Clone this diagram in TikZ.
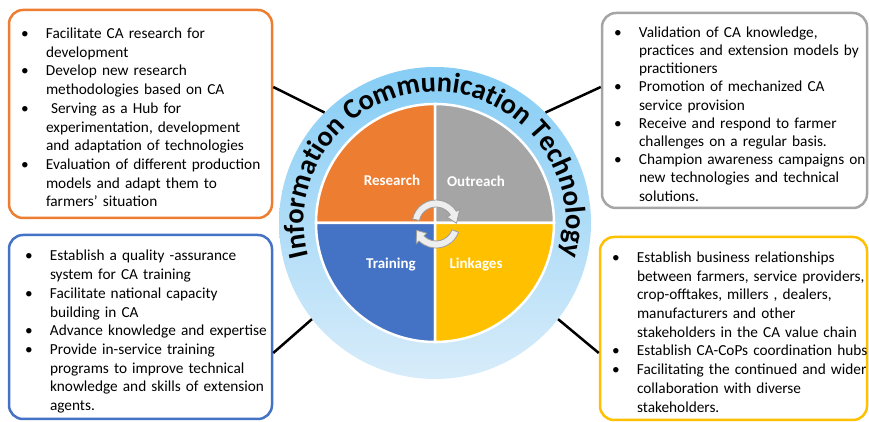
\documentclass[tikz,border=0pt]{standalone}
\usepackage{fontspec}
\setmainfont{Carlito}
\usetikzlibrary{decorations.text}

\definecolor{resorange}{HTML}{ED7D31}
\definecolor{outgray}{HTML}{A5A5A5}
\definecolor{trainblue}{HTML}{4472C4}
\definecolor{linkgold}{HTML}{FFC000}
\definecolor{ringtop}{HTML}{86CDF5}
\definecolor{ringbottom}{HTML}{D8ECFA}
\definecolor{cyclefill}{HTML}{EEEEEE}
\definecolor{cycleedge}{HTML}{9C9C9C}

\newcommand{\itm}{\makebox[25pt][l]{\textbullet}}
\newcommand{\boxlist}[1]{\raisebox{-5pt}[\height][\depth]{\begin{tabular}{@{}l@{}l@{}}#1\end{tabular}}}

\tikzset{
  infobox/.style={draw=#1, line width=2.5pt, rounded corners=14pt, fill=white, align=left,
    inner ysep=0pt, font=\fontsize{15.3}{18.7}\selectfont},
  quadrant/.style={fill=#1, draw=white, line width=2.5pt},
  quadlabel/.style={text=white, font=\fontsize{15}{18}\selectfont\bfseries},
  cyclearrow/.style={fill=cyclefill, draw=cycleedge, line width=0.8pt, line join=round},
  link/.style={line width=2.5pt}
}

\begin{document}
\begin{tikzpicture}[x=1pt,y=1pt]
\useasboundingbox (0,0) rectangle (869,422);

% ring and the four quadrants
\node[circle, minimum size=312pt, inner sep=0pt, top color=ringtop, bottom color=ringbottom] (ring) at (435,199) {};
\draw[quadrant=resorange] (ring.center) -- ++(90:119) arc (90:180:119) -- cycle;
\draw[quadrant=outgray] (ring.center) -- ++(0:119) arc (0:90:119) -- cycle;
\draw[quadrant=trainblue] (ring.center) -- ++(180:119) arc (180:270:119) -- cycle;
\draw[quadrant=linkgold] (ring.center) -- ++(270:119) arc (270:360:119) -- cycle;

\node[quadlabel] (research) at (392,242) {Research};
\node[quadlabel] (outreach) at (476,241) {Outreach};
\node[quadlabel] (training) at (391,157) {Training};
\node[quadlabel] (linkages) at (476,157) {Linkages};

% cycle arrows
\begin{scope}[shift={(436,198)}]
\draw[cyclearrow] (168:24) arc (168:32:24) -- (32:28) -- (2:20.5) -- (32:13) -- (32:17) arc (32:168:17) -- cycle;
\draw[cyclearrow] (-20:24) arc (-20:-135:24) -- (-135:28) -- (-162:20.5) -- (-135:13) -- (-135:17) arc (-135:-20:17) -- cycle;
\end{scope}

\path[decorate, decoration={text along path, text align=center,
  text={|\fontsize{28.5}{28.5}\selectfont\bfseries|Information Communication Technology}}]
  ([shift={(194.5:131)}]ring.center) arc (194.5:-14.5:131);

% the four boxes
\node[infobox=resorange, minimum width=263pt, minimum height=208pt, text width=239pt, inner xsep=12pt] (resbox) at (140.5,308) {\boxlist{%
\itm & Facilitate CA research for\\
 & development\\
\itm & Develop new research\\
 & methodologies based on CA\\
\itm & \ Serving as a Hub for\\
 & experimentation, development\\
 & and adaptation of technologies\\
\itm & Evaluation of different production\\
 & models and adapt them to\\
 & farmers’ situation}};

\node[infobox=outgray, font=\fontsize{15.3}{18.2}\selectfont, minimum width=265pt, minimum height=195pt, text width=241pt, inner xsep=12pt] (outbox) at (734.5,311.5) {\boxlist{%
\itm & Validation of CA knowledge,\\
 & practices and extension models by\\
 & practitioners\\
\itm & Promotion of mechanized CA\\
 & service provision\\
\itm & Receive and respond to farmer\\
 & challenges on a regular basis.\\
\itm & Champion awareness campaigns on\\
 & new technologies and technical\\
 & solutions.}};

\node[infobox=trainblue, minimum width=263pt, minimum height=184pt, text width=231pt, inner xsep=16pt] (trainbox) at (140.5,95) {\boxlist{%
\itm & Establish a quality -assurance\\
 & system for CA training\\
\itm & Facilitate national capacity\\
 & building in CA\\
\itm & Advance knowledge and expertise\\
\itm & Provide in-service training\\
 & programs to improve technical\\
 & knowledge and skills of extension\\
 & agents.}};

\node[infobox=linkgold, minimum width=267pt, minimum height=183pt, text width=243pt, inner xsep=12pt] (linkbox) at (733.5,93.5) {\boxlist{%
\itm & Establish business relationships\\
 & between farmers, service providers,\\
 & crop-offtakes, millers , dealers,\\
 & manufacturers and other\\
 & stakeholders in the CA value chain\\
\itm & Establish CA-CoPs coordination hubs\\
\itm & Facilitating the continued and wider\\
 & collaboration with diverse\\
 & stakeholders.}};

% connectors
\draw[link] (ring.135) -- ([yshift=27pt]resbox.east);
\draw[link] (ring.45) -- ([yshift=23.5pt]outbox.west);
\draw[link] (ring.218) -- ([yshift=-26pt]trainbox.east);
\draw[link] (ring.322) -- ([yshift=-24.5pt]linkbox.west);
\end{tikzpicture}
\end{document}
